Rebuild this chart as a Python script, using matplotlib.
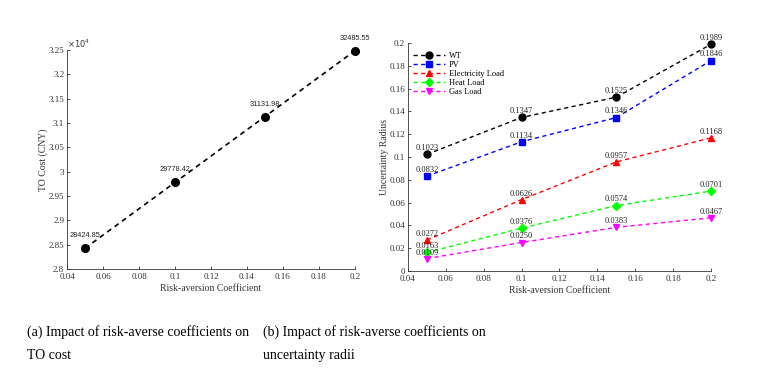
import numpy as np
import matplotlib.pyplot as plt
from matplotlib.ticker import FuncFormatter

# data
risk_coef = [0.05, 0.1, 0.15, 0.2]
to_cost = [28424.85, 29778.42, 31131.98, 32485.55]

wt = [0.1023, 0.1347, 0.1525, 0.1989]
pv = [0.0832, 0.1134, 0.1346, 0.1846]
elec_load = [0.0272, 0.0626, 0.0957, 0.1168]
heat_load = [0.0163, 0.0376, 0.0574, 0.0701]
gas_load = [0.0109, 0.0250, 0.0383, 0.0467]

series_names = ["WT", "PV", "Electricity Load", "Heat Load", "Gas Load"]
series_vals = [wt, pv, elec_load, heat_load, gas_load]
series_colors = ["black", "blue", "red", "#00ff00", "magenta"]
series_markers = ["o", "s", "^", "D", "v"]

x_ticks = [0.04, 0.06, 0.08, 0.1, 0.12, 0.14, 0.16, 0.18, 0.2]

plt.rcParams["font.family"] = "Liberation Serif"

fig = plt.figure(figsize=(7.65, 3.83), dpi=100)

def style_axes(ax):
    ax.spines["top"].set_visible(False)
    ax.spines["right"].set_visible(False)
    for s in ["left", "bottom"]:
        ax.spines[s].set_linewidth(0.6)
        ax.spines[s].set_color("#333333")
    ax.tick_params(direction="in", length=2.5, width=0.6, labelsize=6.5, colors="#333333", pad=2)
    ax.tick_params(axis="x", pad=3)
    ax.set_xticks(x_ticks)
    ax.xaxis.set_major_formatter(FuncFormatter(lambda v, p: "%g" % round(v, 3)))
    ax.set_xlim(0.04, 0.2)

# ---- (a) TO cost
ax1 = fig.add_axes([0.0876, 0.2977, 0.3764, 0.5718])
ax1.plot(risk_coef, to_cost, "k--", lw=1.2, marker="o", ms=5.5, dashes=(3, 2.5), clip_on=False)
for x, y in zip(risk_coef, to_cost):
    ax1.annotate("%.2f" % y, (x, y), xytext=(0, 6.5), textcoords="offset points",
                 ha="center", va="bottom", fontsize=5.3, family="Liberation Sans", color="#222222")
style_axes(ax1)
ax1.set_ylim(28000, 32500)
ax1.set_yticks(np.arange(28000, 32501, 500))
ax1.yaxis.set_major_formatter(FuncFormatter(lambda v, p: "%g" % round(v / 1e4, 3)))
ax1.text(0.0, 1.0, r"$\times10^4$", transform=ax1.transAxes, fontsize=6, ha="left", va="bottom", color="#333333")
ax1.set_xlabel("Risk-aversion Coefficient", fontsize=7, color="#333333", labelpad=2)
ax1.set_ylabel("TO Cost (CNY)", fontsize=7, color="#333333", labelpad=0)

# ---- (b) uncertainty radii
ax2 = fig.add_axes([0.5333, 0.2924, 0.3961, 0.5953])
for name, vals, c, m in zip(series_names, series_vals, series_colors, series_markers):
    ms = 4.3 if m == "D" else 5
    ax2.plot(risk_coef, vals, ls="--", color=c, lw=1.0, marker=m, ms=ms, dashes=(3, 2.5),
             label=name, clip_on=False)
    for x, y in zip(risk_coef, vals):
        ax2.annotate("%.4f" % y, (x, y), xytext=(0, 1.5), textcoords="offset points",
                     ha="center", va="bottom", fontsize=6, color="#222222")
style_axes(ax2)
ax2.set_ylim(0, 0.2)
ax2.set_yticks(np.arange(0, 0.201, 0.02))
ax2.yaxis.set_major_formatter(FuncFormatter(lambda v, p: "%g" % round(v, 3)))
ax2.set_xlabel("Risk-aversion Coefficient", fontsize=7, color="#333333", labelpad=2)
ax2.set_ylabel("Uncertainty Radius", fontsize=7, color="#333333", labelpad=0)
ax2.legend(loc="upper left", frameon=False, fontsize=6, handlelength=3.9, handletextpad=0.4,
           labelspacing=0.13, borderaxespad=0.0, bbox_to_anchor=(0.005, 0.975))

# captions
fig.text(27 / 765, 1 - 325 / 383, "(a) Impact of risk-averse coefficients on\nTO cost",
         fontsize=10, ha="left", va="top", linespacing=2.05)
fig.text(263 / 765, 1 - 325 / 383, "(b) Impact of risk-averse coefficients on\nuncertainty radii",
         fontsize=10, ha="left", va="top", linespacing=2.05)

fig.savefig("out.png", dpi=100)
